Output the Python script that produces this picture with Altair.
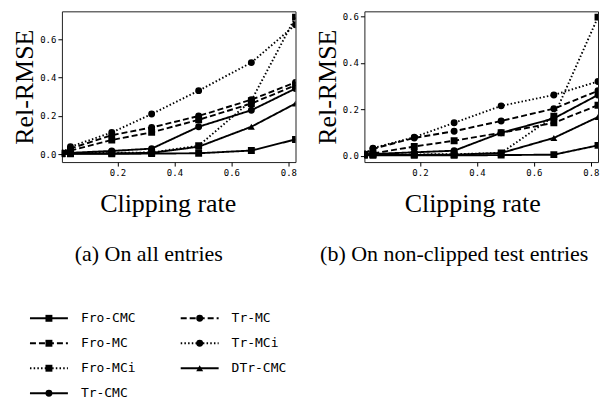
import altair as alt
import pandas as pd

# ---- data ----
x_vals = [0.005, 0.035, 0.18, 0.32, 0.485, 0.67, 0.825]
series_names = ["Fro-CMC", "Fro-MC", "Fro-MCi", "Tr-CMC", "Tr-MC", "Tr-MCi", "DTr-CMC"]

# (a) On all entries
fro_cmc_a = [0.003, 0.003, 0.003, 0.004, 0.006, 0.020, 0.078]
fro_mc_a = [0.005, 0.020, 0.075, 0.115, 0.180, 0.265, 0.360]
fro_mci_a = [0.005, 0.006, 0.008, 0.010, 0.045, 0.280, 0.715]
tr_cmc_a = [0.005, 0.008, 0.018, 0.030, 0.144, 0.230, 0.343]
tr_mc_a = [0.008, 0.030, 0.100, 0.140, 0.200, 0.285, 0.375]
tr_mci_a = [0.008, 0.040, 0.114, 0.210, 0.332, 0.478, 0.675]
dtr_cmc_a = [0.003, 0.004, 0.005, 0.008, 0.040, 0.144, 0.265]

# (b) On non-clipped test entries
fro_cmc_b = [0.002, 0.002, 0.002, 0.002, 0.003, 0.005, 0.045]
fro_mc_b = [0.005, 0.010, 0.040, 0.065, 0.099, 0.142, 0.218]
fro_mci_b = [0.005, 0.005, 0.006, 0.007, 0.012, 0.170, 0.597]
tr_cmc_b = [0.005, 0.008, 0.015, 0.022, 0.099, 0.161, 0.262]
tr_mc_b = [0.008, 0.030, 0.077, 0.106, 0.150, 0.203, 0.280]
tr_mci_b = [0.008, 0.033, 0.080, 0.142, 0.215, 0.262, 0.320]
dtr_cmc_b = [0.003, 0.003, 0.004, 0.005, 0.012, 0.077, 0.167]

x_ticks = [0.2, 0.4, 0.6, 0.8]
y_ticks = [0.0, 0.2, 0.4, 0.6]
x_title = "Clipping rate"
y_title = "Rel-RMSE"
sub_a = "(a) On all entries"
sub_b = "(b) On non-clipped test entries"

# legend layout (column-major, as in the reference)
leg_col = [0, 0, 0, 0, 1, 1, 1]
leg_row = [0, 1, 2, 3, 0, 1, 2]

dash_range = [[1, 0], [6, 3], [1.5, 2.2], [1, 0], [6, 3], [1.5, 2.2], [1, 0]]
shape_range = ["square", "square", "square", "circle", "circle", "circle", "triangle-up"]


def long_df(cols):
    rows = []
    for name, vals in zip(series_names, cols):
        for xv, yv in zip(x_vals, vals):
            rows.append({"series": name, "x": xv, "y": yv})
    return pd.DataFrame(rows)


df_a = long_df([fro_cmc_a, fro_mc_a, fro_mci_a, tr_cmc_a, tr_mc_a, tr_mci_a, dtr_cmc_a])
df_b = long_df([fro_cmc_b, fro_mc_b, fro_mci_b, tr_cmc_b, tr_mc_b, tr_mci_b, dtr_cmc_b])

dash_scale = alt.Scale(domain=series_names, range=dash_range)
shape_scale = alt.Scale(domain=series_names, range=shape_range)


def panel(df, ydom, subtitle, title_x, sub_dx):
    base = alt.Chart(df).encode(
        x=alt.X("x:Q", scale=alt.Scale(domain=[0.005, 0.825], nice=False, zero=False),
                axis=alt.Axis(values=x_ticks, format=".1f", title=x_title, titlePadding=14,
                              titleX=title_x)),
        y=alt.Y("y:Q", scale=alt.Scale(domain=ydom, nice=False, zero=False),
                axis=alt.Axis(values=y_ticks, format=".1f", title=y_title, titlePadding=2)),
    )
    lines = base.mark_line(color="black", strokeWidth=1.9, clip=True, strokeCap="butt").encode(
        strokeDash=alt.StrokeDash("series:N", scale=dash_scale, legend=None),
        detail="series:N",
    )
    pts = base.mark_point(filled=True, color="black", opacity=1, size=48, clip=True).encode(
        shape=alt.Shape("series:N", scale=shape_scale, legend=None),
    )
    return alt.layer(lines, pts).properties(
        width=234, height=151,
        title=alt.TitleParams(subtitle, orient="bottom", offset=27, anchor="middle", dx=sub_dx),
    )


left = panel(df_a, [-0.04, 0.745], sub_a, 106, -30)
right = panel(df_b, [-0.027, 0.622], sub_b, 108, -27)

top = alt.hconcat(left, right, spacing=16).resolve_scale(x="independent", y="independent")

leg_df = pd.DataFrame({"series": series_names, "col": leg_col, "row": leg_row})
lbase = alt.Chart(leg_df).encode(
    x=alt.X("col:Q", scale=alt.Scale(domain=[0, 1], range=[-32, 119]), axis=None),
    y=alt.Y("row:Q", scale=alt.Scale(domain=[-0.5, 3.5], reverse=True), axis=None),
)
lrule = lbase.mark_rule(color="black", strokeWidth=1.9, x2Offset=38).encode(
    x2="col:Q",
    strokeDash=alt.StrokeDash("series:N", scale=dash_scale, legend=None),
)
lpts = lbase.mark_point(filled=True, color="black", opacity=1, size=48, xOffset=19).encode(
    shape=alt.Shape("series:N", scale=shape_scale, legend=None),
)
ltxt = lbase.mark_text(align="left", baseline="middle", dx=51, font="DejaVu Sans Mono",
                       fontSize=13, color="black").encode(text="series:N")
legend = alt.layer(lrule, lpts, ltxt).properties(
    width=250, height=100, view=alt.ViewBackground(stroke="transparent")
)

chart = alt.vconcat(top, legend, spacing=39).resolve_scale(
    x="independent", y="independent"
).properties(
    padding={"left": 3, "top": 2, "right": 0, "bottom": 0}
).configure_view(
    stroke="#222", strokeWidth=1
).configure_axis(
    labelFont="DejaVu Sans Mono", labelFontSize=9, labelColor="black",
    tickColor="black", tickSize=4, labelPadding=2, grid=False, domain=False,
    titleFont="Liberation Serif", titleFontSize=26, titleFontWeight="normal", titleColor="black",
).configure_title(
    font="Liberation Serif", fontSize=22, fontWeight="normal", color="black"
)

chart.save("out.html", embed_options={"renderer": "svg", "actions": False})
